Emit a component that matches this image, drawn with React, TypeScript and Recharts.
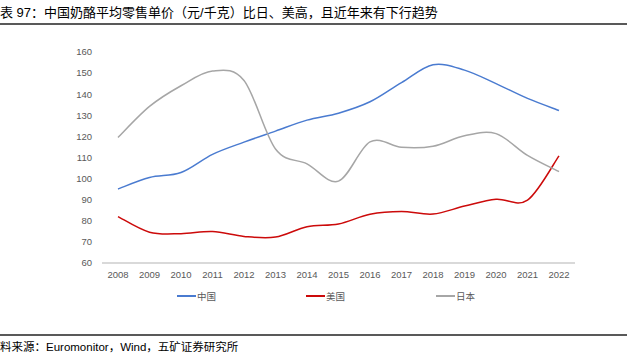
import React from 'react';
import { LineChart, Line, XAxis, YAxis } from 'recharts';

const years = ['2008','2009','2010','2011','2012','2013','2014','2015','2016','2017','2018','2019','2020','2021','2022'];
const china = [95.1, 100.5, 102.9, 111.5, 117.3, 122.5, 127.7, 131.0, 136.4, 145.5, 154.0, 151.4, 145.0, 138.0, 132.3];
const usa = [82.0, 74.6, 73.9, 74.9, 72.6, 72.3, 77.2, 78.5, 83.1, 84.4, 83.2, 87.0, 90.2, 89.8, 110.8];
const japan = [119.5, 134.2, 144.0, 151.0, 146.5, 114.0, 107.0, 98.8, 117.4, 114.8, 115.3, 120.3, 121.3, 111.0, 103.3];
const yTicks = [60, 70, 80, 90, 100, 110, 120, 130, 140, 150, 160];

const data = years.map((y, i) => ({ year: y, cn: china[i], us: usa[i], jp: japan[i] }));

const FONT = '"Liberation Sans", Arial, "Noto Sans CJK SC", sans-serif';

// Catmull-Rom style smoothing similar to Excel smoothed lines
const smoothCurve = (context: any) => {
  let pts: number[][] = [];
  return {
    areaStart() {},
    areaEnd() {},
    lineStart() { pts = []; },
    point(x: number, y: number) { pts.push([+x, +y]); },
    lineEnd() {
      if (!pts.length) return;
      context.moveTo(pts[0][0], pts[0][1]);
      for (let i = 0; i < pts.length - 1; i++) {
        const p0 = pts[i - 1] || pts[i];
        const p1 = pts[i];
        const p2 = pts[i + 1];
        const p3 = pts[i + 2] || p2;
        const c1x = p1[0] + (p2[0] - p0[0]) / 6;
        const c1y = p1[1] + (p2[1] - p0[1]) / 6;
        const c2x = p2[0] - (p3[0] - p1[0]) / 6;
        const c2y = p2[1] - (p3[1] - p1[1]) / 6;
        context.bezierCurveTo(c1x, c1y, c2x, c2y, p2[0], p2[1]);
      }
    },
  };
};

const legendItems = [
  { label: '中国', color: '#4a7bd0', x: 177 },
  { label: '美国', color: '#cc0a0a', x: 306 },
  { label: '日本', color: '#a6a6a6', x: 436 },
];

export default function App() {
  return (
    <div style={{ position: 'absolute', left: 0, top: 0, width: 634, height: 353, background: '#fff', fontFamily: FONT, overflow: 'hidden' }}>
      <div style={{ position: 'absolute', left: 0, top: 4, fontSize: 13, lineHeight: '18px', color: '#000', whiteSpace: 'nowrap' }}>
        表 97：中国奶酪平均零售单价（元/千克）比日、美高，且近年来有下行趋势
      </div>
      <div style={{ position: 'absolute', left: 0, top: 23, width: 627, height: 2, background: '#595959' }} />
      <div style={{ position: 'absolute', left: 0, top: 0 }}>
        <LineChart width={634} height={353} data={data} margin={{ top: 52, right: 59, bottom: 70, left: 0 }}>
          <XAxis
            dataKey="year"
            height={20}
            padding={{ left: 16, right: 16 }}
            axisLine={{ stroke: '#d9d9d9', strokeWidth: 2 }}
            tickLine={false}
            tickSize={0}
            tickMargin={8}
            interval={0}
            tick={{ fontSize: 9.5, fill: '#595959', fontFamily: FONT }}
          />
          <YAxis
            width={102}
            domain={[60, 160]}
            ticks={yTicks}
            interval={0}
            axisLine={false}
            tickLine={false}
            tickSize={0}
            tickMargin={10}
            tick={{ fontSize: 9.5, fill: '#595959', fontFamily: FONT }}
          />
          <Line dataKey="cn" type={smoothCurve as any} stroke="#4a7bd0" strokeWidth={1.5} dot={false} isAnimationActive={false} />
          <Line dataKey="us" type={smoothCurve as any} stroke="#cc0a0a" strokeWidth={1.5} dot={false} isAnimationActive={false} />
          <Line dataKey="jp" type={smoothCurve as any} stroke="#a6a6a6" strokeWidth={1.5} dot={false} isAnimationActive={false} />
        </LineChart>
      </div>
      {legendItems.map((it) => (
        <div key={it.label} style={{ position: 'absolute', left: it.x, top: 289, height: 14, display: 'flex', alignItems: 'center', fontSize: 9.5, color: '#595959', whiteSpace: 'nowrap' }}>
          <span style={{ display: 'inline-block', width: 19, height: 2, background: it.color, marginRight: 1 }} />
          <span>{it.label}</span>
        </div>
      ))}
      <div style={{ position: 'absolute', left: 0, top: 334, width: 627, height: 2, background: '#595959' }} />
      <div style={{ position: 'absolute', left: 0, top: 340, fontSize: 11.5, lineHeight: '14px', color: '#000', whiteSpace: 'nowrap' }}>
        料来源：Euromonitor，Wind，五矿证券研究所
      </div>
    </div>
  );
}
